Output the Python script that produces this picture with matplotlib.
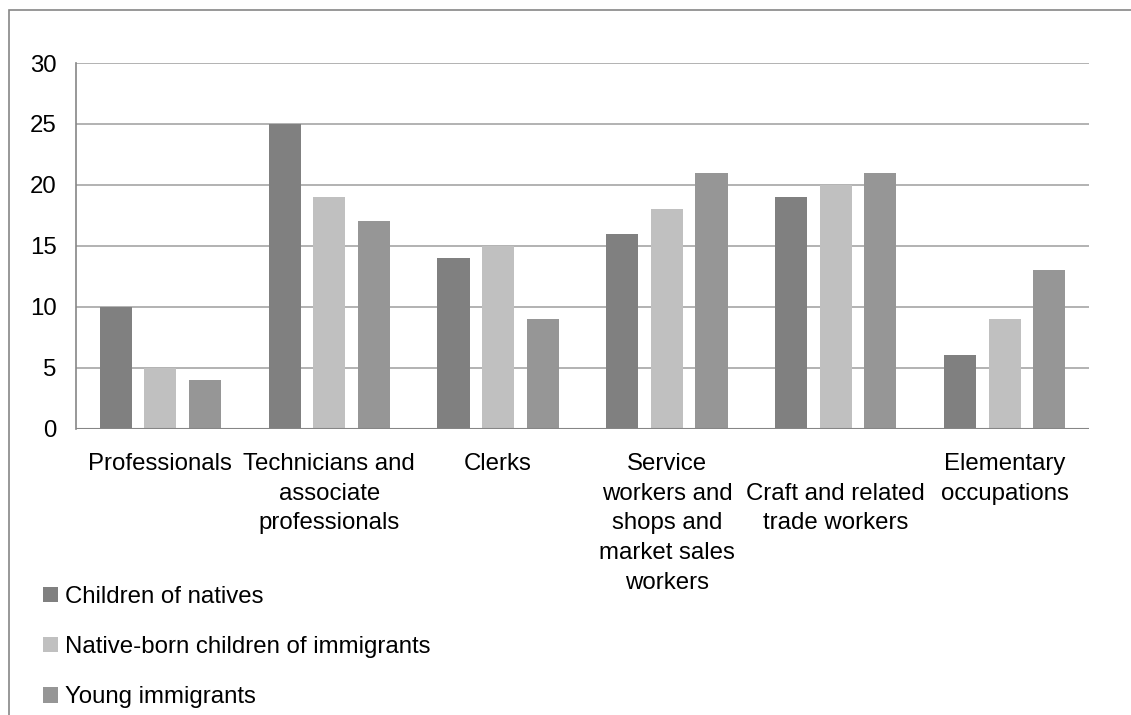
import numpy as np
import matplotlib
matplotlib.use("Agg")
import matplotlib.pyplot as plt
from matplotlib.patches import Rectangle

plt.rcParams['font.family'] = ['Liberation Sans', 'DejaVu Sans']
plt.rcParams['font.size'] = 17.3

categories = ["Professionals",
              "Technicians and\nassociate\nprofessionals",
              "Clerks",
              "Service\nworkers and\nshops and\nmarket sales\nworkers",
              "\nCraft and related\ntrade workers",
              "Elementary\noccupations"]
children_of_natives = [10, 25, 14, 16, 19, 6]
native_born_children = [5, 19, 15, 18, 20, 9]
young_immigrants = [4, 17, 9, 21, 21, 13]
series_names = ["Children of natives",
                "Native-born children of immigrants",
                "Young immigrants"]
colors = ["#808080", "#c0c0c0", "#969696"]

W, H = 1131, 715
fig = plt.figure(figsize=(W / 100, H / 100), dpi=100)
ax = fig.add_axes([76 / W, 1 - 428.5 / H, (1089 - 76) / W, (428.5 - 63) / H])

x = np.arange(len(categories))
bw = 0.19
step = 0.264
handles = []
for i, (vals, name, c) in enumerate(zip(
        [children_of_natives, native_born_children, young_immigrants],
        series_names, colors)):
    h = ax.bar(x + (i - 1) * step, vals, width=bw, color=c, label=name, zorder=3)
    handles.append(h)

ax.set_xlim(-0.5, len(categories) - 0.5)
ax.set_ylim(0, 30)
ax.set_yticks(range(0, 31, 5))
ax.yaxis.grid(True, color="#a6a6a6", linewidth=1.2, zorder=0)
ax.set_axisbelow(True)
ax.tick_params(axis='y', length=0, pad=14)
ax.tick_params(axis='x', length=0, pad=17.5)
ax.set_xticks(x)
ax.set_xticklabels(categories, linespacing=1.46)

for side in ['top', 'right', 'bottom']:
    ax.spines[side].set_visible(False)
ax.spines['left'].set_color("#868686")
ax.spines['left'].set_linewidth(1.2)
ax.axhline(0, color="#868686", linewidth=1.5, zorder=4)

# outer chart border (only top and left edges fall inside the image)
fig.patches.append(Rectangle((9 / W, -0.1), 1.2, 1 - 10 / H + 0.1,
                             transform=fig.transFigure, fill=False,
                             edgecolor="#868686", linewidth=1.2))

fig.legend(handles=handles, loc='upper left',
           bbox_to_anchor=(43 / W, 1 - 586 / H),
           frameon=False, borderpad=0, borderaxespad=0,
           handlelength=0.62, handleheight=0.62, handletextpad=0.28,
           labelspacing=1.17, fontsize=17.3)

fig.savefig("out.png", dpi=100)
